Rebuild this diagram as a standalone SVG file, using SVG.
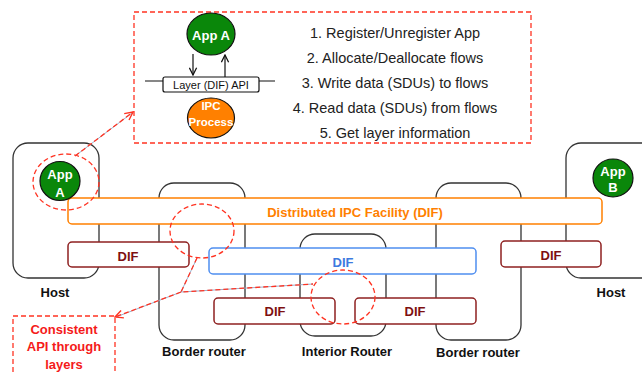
<svg xmlns="http://www.w3.org/2000/svg" width="642" height="373" viewBox="0 0 642 373">
<defs>
<style>
.box{fill:#fff;stroke:#333;stroke-width:1.3}
.dif{fill:#fff;stroke:#8e2020;stroke-width:1.5}
.t{font-family:"Liberation Sans",Arial,sans-serif;text-anchor:middle}
.b{font-weight:bold}
.dred{fill:#7e1010;font-size:13px}
.lbl{fill:#111;font-size:13px}
.red{fill:none;stroke:#ff3322;stroke-width:1.3;stroke-dasharray:5 3}
.under{fill:none;stroke:#9ab0cc;stroke-width:1}
.app{fill:#0a870a;stroke:#111;stroke-width:1.2}
.wt{fill:#fff;font-size:13px}
.list{fill:#222;font-size:14.5px}
</style>
<marker id="ra" viewBox="0 0 10 10" refX="9" refY="5" markerWidth="10" markerHeight="10" markerUnits="userSpaceOnUse" orient="auto">
<path d="M1,1 L9,5 L1,9" fill="none" stroke="#ff3322" stroke-width="1.4"/>
</marker>
<marker id="ka" viewBox="0 0 10 10" refX="9" refY="5" markerWidth="9" markerHeight="9" markerUnits="userSpaceOnUse" orient="auto">
<path d="M1,1 L9,5 L1,9" fill="none" stroke="#111" stroke-width="1.4"/>
</marker>
</defs>
<rect width="642" height="373" fill="#fff"/>

<g id="host-left">
<rect class="box" x="13" y="143" width="86" height="135" rx="15"/>
<text class="t b lbl" x="55" y="297">Host</text>
</g>
<g id="host-right">
<rect class="box" x="566" y="143" width="100" height="135" rx="15"/>
<text class="t b lbl" x="611" y="297">Host</text>
</g>
<g id="border-router-left">
<rect class="box" x="159" y="183" width="86" height="157" rx="15"/>
<text class="t b lbl" x="204" y="356">Border router</text>
</g>
<g id="interior-router">
<rect class="box" x="300" y="234" width="86" height="102" rx="15"/>
<text class="t b lbl" x="347" y="356">Interior Router</text>
</g>
<g id="border-router-right">
<rect class="box" x="436" y="183" width="85" height="157" rx="15"/>
<text class="t b lbl" x="478" y="357">Border router</text>
</g>

<g id="dif-distributed">
<rect x="68" y="198" width="534" height="26" rx="4" fill="#fff" stroke="#ff8000" stroke-width="1.5"/>
<text class="t b" x="355" y="217" fill="#ff8000" font-size="13">Distributed IPC Facility (DIF)</text>
</g>
<g id="dif-host-left">
<rect class="dif" x="68" y="242" width="121" height="25" rx="4"/>
<text class="t b dred" x="128" y="261">DIF</text>
</g>
<g id="dif-blue">
<rect x="209" y="248" width="267" height="26" rx="4" fill="#fff" stroke="#4f8ef0" stroke-width="1.5"/>
<text class="t b" x="343" y="267" fill="#3d7ae0" font-size="13">DIF</text>
</g>
<g id="dif-bottom-left">
<rect class="dif" x="214" y="298" width="121" height="26" rx="4"/>
<text class="t b dred" x="275" y="316">DIF</text>
</g>
<g id="dif-bottom-right">
<rect class="dif" x="355" y="298" width="121" height="26" rx="4"/>
<text class="t b dred" x="415" y="316">DIF</text>
</g>
<g id="dif-host-right">
<rect class="dif" x="501" y="241" width="100" height="26" rx="4"/>
<text class="t b dred" x="551" y="260">DIF</text>
</g>

<g id="app-a-host">
<ellipse class="app" cx="60" cy="181" rx="20" ry="19.5"/>
<text class="t b wt" x="60" y="179">App</text>
<text class="t b wt" x="60" y="197">A</text>
</g>
<g id="app-b-host">
<ellipse class="app" cx="613" cy="178" rx="20" ry="19"/>
<text class="t b wt" x="613" y="176">App</text>
<text class="t b wt" x="613" y="192">B</text>
</g>

<g id="api-detail">
<rect class="red" x="134" y="12" width="397" height="131"/>
<line x1="145" y1="81" x2="275" y2="81" stroke="#111" stroke-width="1.2"/>
<rect x="163" y="77" width="96" height="15" rx="2" fill="#fff" stroke="#111" stroke-width="1.2"/>
<text class="t" x="211" y="89" fill="#111" font-size="11">Layer (DIF) API</text>
<ellipse class="app" cx="211" cy="34" rx="24" ry="21"/>
<text class="t b wt" x="211" y="40">App A</text>
<ellipse cx="211" cy="118" rx="23.5" ry="20" fill="#ff8000" stroke="#111" stroke-width="1.2"/>
<text class="t b" x="211" y="110" fill="#fff" font-size="11.5">IPC</text>
<text class="t b" x="211" y="126" fill="#fff" font-size="11.5">Process</text>
<line x1="193" y1="54" x2="193" y2="75" stroke="#111" stroke-width="1.2" marker-end="url(#ka)"/>
<line x1="225" y1="77" x2="225" y2="55" stroke="#111" stroke-width="1.2" marker-end="url(#ka)"/>
<text class="t list" x="395" y="38">1. Register/Unregister App</text>
<text class="t list" x="395" y="63">2. Allocate/Deallocate flows</text>
<text class="t list" x="395" y="88">3. Write data (SDUs) to flows</text>
<text class="t list" x="395" y="113">4. Read data (SDUs) from flows</text>
<text class="t list" x="395" y="138">5.  Get layer information</text>
</g>

<g id="consistent-api">
<rect class="red" x="13" y="316" width="102" height="70"/>
<text class="t b" x="64" y="334" fill="#f51a1a" font-size="13">Consistent</text>
<text class="t b" x="64" y="351" fill="#f51a1a" font-size="13">API through</text>
<text class="t b" x="64" y="369" fill="#f51a1a" font-size="13">layers</text>
</g>

<g id="highlights">
<ellipse class="red" cx="66" cy="182" rx="33" ry="28"/>
<ellipse class="red" cx="202" cy="231" rx="32" ry="27"/>
<ellipse class="red" cx="343" cy="297" rx="32" ry="27"/>
</g>

<g id="connectors">
<line class="under" x1="75" y1="156" x2="132" y2="113"/>
<line class="red" x1="75" y1="156" x2="133" y2="112" marker-end="url(#ra)"/>
<polyline class="under" points="197,258 181,292 313,284"/>
<polyline class="red" points="197,258 181,292 313,284"/>
<line class="under" x1="181" y1="292" x2="116" y2="317"/>
<line class="red" x1="181" y1="292" x2="115" y2="317" marker-end="url(#ra)"/>
</g>
</svg>
